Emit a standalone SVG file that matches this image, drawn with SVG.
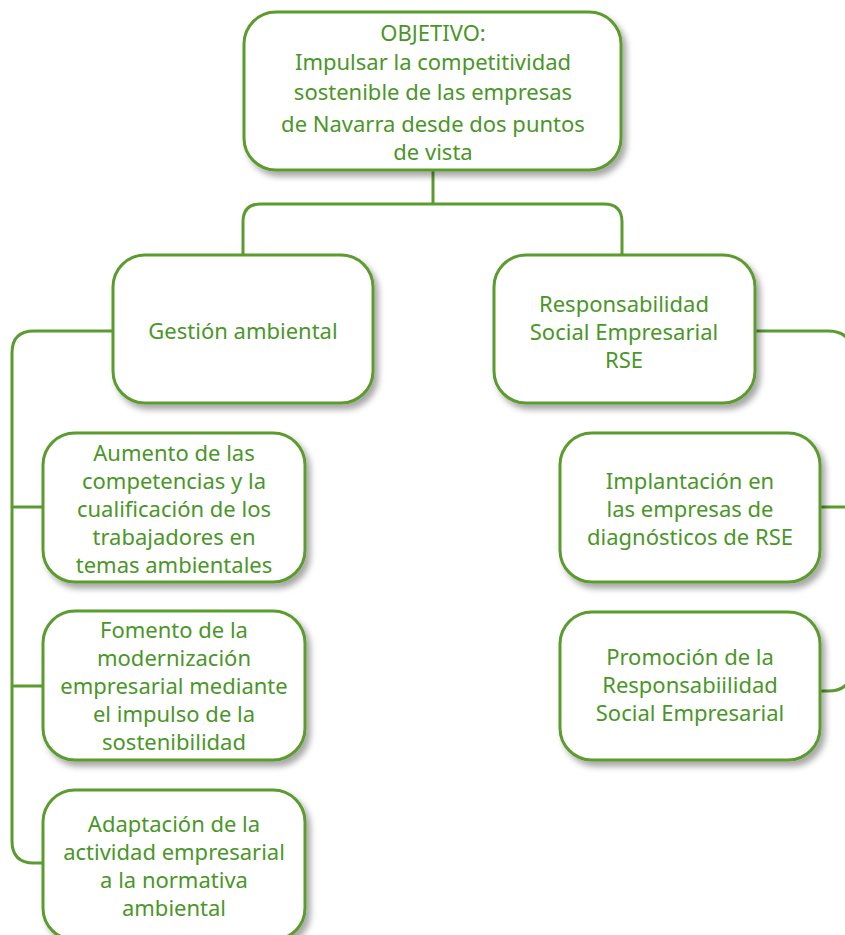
<svg xmlns="http://www.w3.org/2000/svg" width="845" height="935" viewBox="0 0 845 935">
<defs>
<filter id="sh" x="-10%" y="-10%" width="125%" height="130%">
<feDropShadow dx="4" dy="5" stdDeviation="3" flood-color="#000" flood-opacity="0.35"/>
</filter>
</defs>
<style>
.box{fill:#fff;stroke:#5b9b2f;stroke-width:3;filter:url(#sh)}
.con{fill:none;stroke:#5b9b2f;stroke-width:3}
text{font-family:"Noto Sans","Open Sans",sans-serif;font-size:22px;fill:#4a9628;text-anchor:middle}
</style>
<rect width="845" height="935" fill="#fff"/>
<g id="connectors">
<path class="con" d="M433,170 V204"/>
<path class="con" d="M243,255 V222 Q243,204 261,204 H604 Q622,204 622,222 V255"/>
<path class="con" d="M113,331 H34 Q12,331 12,353 V841 Q12,863 34,863 H43"/>
<path class="con" d="M12,507 H43 M12,686 H43"/>
<path class="con" d="M755,331 H828 Q852,331 852,355 V667 Q852,691 828,691 H821"/>
<path class="con" d="M821,507 H852"/>
</g>
<g id="objetivo">
<rect class="box" x="244" y="12" width="377" height="158" rx="32"/>
<text x="433" y="41">OBJETIVO:</text>
<text x="433" y="70">Impulsar la competitividad</text>
<text x="433" y="100">sostenible de las empresas</text>
<text x="433" y="132">de Navarra desde dos puntos</text>
<text x="433" y="160">de vista</text>
</g>
<g id="gestion">
<rect class="box" x="113" y="255" width="260" height="148" rx="32"/>
<text x="243" y="339">Gestión ambiental</text>
</g>
<g id="rse">
<rect class="box" x="494" y="255" width="261" height="148" rx="32"/>
<text x="624" y="312">Responsabilidad</text>
<text x="624" y="340">Social Empresarial</text>
<text x="624" y="368">RSE</text>
</g>
<g id="aumento">
<rect class="box" x="43" y="433" width="262" height="149" rx="32"/>
<text x="174" y="461">Aumento de las</text>
<text x="174" y="489">competencias y la</text>
<text x="174" y="517">cualificación de los</text>
<text x="174" y="545">trabajadores en</text>
<text x="174" y="573">temas ambientales</text>
</g>
<g id="fomento">
<rect class="box" x="43" y="611" width="262" height="149" rx="32"/>
<text x="174" y="638">Fomento de la</text>
<text x="174" y="666">modernización</text>
<text x="174" y="694">empresarial mediante</text>
<text x="174" y="722">el impulso de la</text>
<text x="174" y="750">sostenibilidad</text>
</g>
<g id="adaptacion">
<rect class="box" x="43" y="790" width="262" height="150" rx="32"/>
<text x="174" y="832">Adaptación de la</text>
<text x="174" y="860">actividad empresarial</text>
<text x="174" y="888">a la normativa</text>
<text x="174" y="916">ambiental</text>
</g>
<g id="implantacion">
<rect class="box" x="560" y="433" width="260" height="149" rx="32"/>
<text x="690" y="489">Implantación en</text>
<text x="690" y="517">las empresas de</text>
<text x="690" y="545">diagnósticos de RSE</text>
</g>
<g id="promocion">
<rect class="box" x="560" y="612" width="260" height="148" rx="32"/>
<text x="690" y="665">Promoción de la</text>
<text x="690" y="693">Responsabiilidad</text>
<text x="690" y="721">Social Empresarial</text>
</g>
</svg>
